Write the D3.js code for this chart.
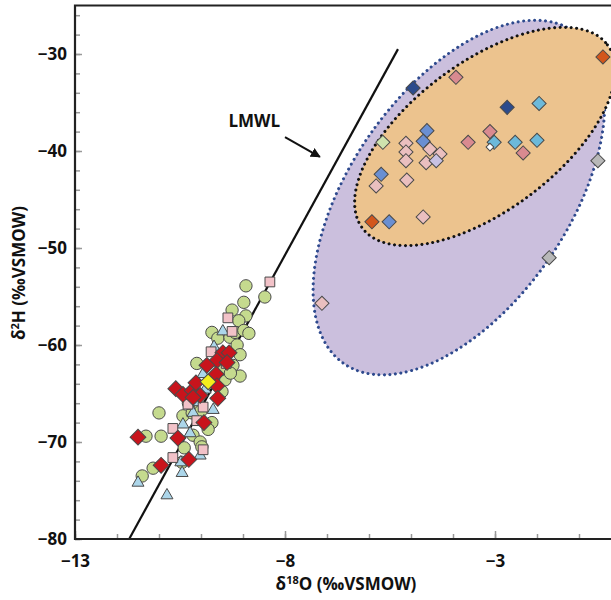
<!DOCTYPE html>
<html>
<head>
<meta charset="utf-8">
<script src="https://cdn.jsdelivr.net/npm/d3@7"></script>
<style>
body { margin: 0; background: #fff; }
svg text { font-family: "Open Sans", "Liberation Sans", sans-serif; font-weight: bold; fill: #111; }
</style>
</head>
<body>
<script>
// chart size
var width = 611;
var height = 600;

// axis ticks
var xMajorTicks = [-13, -8, -3];
var yMajorTicks = [-80, -70, -60, -50, -40, -30];

// LMWL line end points (d18O, d2H)
var lmwl = [[-11.71, -80], [-5.31, -29.5]];

// local samples near the LMWL
var greenCircles = [
  [-8.93, -53.9], [-8.48, -55.05], [-8.98, -55.6], [-9.26, -56.4], [-8.93, -57.0], [-9.10, -57.5],
  [-9.74, -58.7], [-9.60, -59.3], [-9.31, -59.2], [-9.19, -58.7], [-8.98, -58.5], [-8.86, -58.8],
  [-9.14, -60.0], [-9.07, -61.0], [-9.24, -62.1], [-9.07, -63.2], [-10.10, -61.9], [-9.43, -63.6],
  [-11.0, -67.0], [-11.31, -69.4], [-10.95, -69.4], [-10.43, -67.3], [-10.21, -67.0], [-10.02, -66.5],
  [-9.74, -68.0], [-9.83, -68.7], [-10.19, -69.3], [-10.40, -70.6], [-10.02, -70.0], [-9.98, -70.5],
  [-11.14, -72.7], [-11.40, -73.5], [-10.45, -72.1], [-9.5, -62.5], [-9.7, -63.5], [-10.3, -66.0],
  [-10.0, -66.8], [-9.5, -64.8], [-9.3, -62.9]
];
var blueTriangles = [
  [-9.48, -58.6], [-9.69, -60.2], [-9.95, -63.0], [-9.71, -66.7], [-10.19, -67.0], [-10.43, -68.2],
  [-10.26, -69.1], [-10.02, -71.4], [-10.48, -72.1], [-10.45, -73.2], [-11.50, -74.2], [-10.81, -75.5],
  [-10.15, -65.9], [-9.9, -64.6]
];
var pinkSquares = [
  [-8.36, -53.5], [-9.36, -57.2], [-9.26, -58.6], [-9.76, -60.7], [-9.40, -61.9], [-10.31, -66.1],
  [-9.95, -66.4], [-10.67, -68.6], [-9.95, -70.8], [-10.67, -71.6], [-10.1, -67.8]
];
var redDiamonds = [
  [-9.48, -60.8], [-9.33, -60.8], [-9.62, -61.6], [-9.38, -61.8], [-9.86, -62.1], [-9.64, -63.0],
  [-9.62, -64.2], [-10.60, -64.5], [-10.43, -65.1], [-10.21, -64.7], [-10.12, -63.9], [-10.02, -65.2],
  [-9.60, -65.5], [-10.19, -65.4], [-9.93, -68.0], [-11.50, -69.5], [-10.55, -69.6], [-10.95, -72.4],
  [-10.29, -71.8]
];
var yellowDiamonds = [[-9.83, -63.8]];

// samples inside the ellipses: [d18O, d2H, group]
var ellipseSamples = [
  [-4.95, -33.5, "navy"], [-3.93, -32.4, "rose"], [-0.43, -30.3, "orange"], [-2.71, -35.5, "navy"],
  [-1.95, -35.1, "cyan"], [-4.62, -37.9, "blue"], [-4.71, -39.0, "blue"], [-5.67, -39.1, "green"],
  [-3.64, -39.1, "rose"], [-3.12, -38.0, "rose"], [-3.02, -39.1, "cyan"], [-2.52, -39.1, "cyan"],
  [-2.0, -38.9, "cyan"], [-2.33, -40.2, "rose"], [-5.12, -39.2, "pink"], [-5.12, -40.1, "pink"],
  [-5.12, -41.0, "pink"], [-4.55, -39.8, "pink"], [-4.31, -40.3, "pink"], [-4.64, -41.2, "pink"],
  [-4.40, -41.0, "lavender"], [-5.71, -42.4, "blue"], [-5.83, -43.6, "pink"], [-5.10, -43.0, "pink"],
  [-4.71, -46.8, "pink"], [-5.93, -47.3, "orange"], [-5.52, -47.3, "blue"], [-0.55, -41.0, "grey"],
  [-1.71, -51.0, "grey"], [-7.12, -55.7, "pink"], [-3.12, -39.6, "white"]
];

var groupColor = {
  navy: "#2c4b8c", rose: "#d98a90", orange: "#d2561c", cyan: "#6cb9da", blue: "#6a8fd2",
  green: "#cfe3ad", pink: "#eabfbf", lavender: "#c8c1e2", grey: "#b8b8b8", white: "#ffffff"
};

// the two shaded ellipses (centre in data units, radii in px)
var ellipses = [
  { cx: -3.86, cy: -44.8, rx: 202, ry: 109, angle: -55.3, fill: "#cbbfdd", stroke: "#2e4a8e" },
  { cx: -3.24, cy: -38.5, rx: 153, ry: 74, angle: -36.8, fill: "#ecc38e", stroke: "#111111" }
];

var svg = d3.select("body").append("svg")
  .attr("width", width)
  .attr("height", height);

var x = d3.scaleLinear().domain([-13, 0]).range([75, 621]);
var y = d3.scaleLinear().domain([-80, -25]).range([539, 5.5]);

// ellipses
svg.selectAll("ellipse")
  .data(ellipses)
  .enter()
  .append("ellipse")
  .attr("cx", function(d) { return x(d.cx); })
  .attr("cy", function(d) { return y(d.cy); })
  .attr("rx", function(d) { return d.rx; })
  .attr("ry", function(d) { return d.ry; })
  .attr("transform", function(d) { return "rotate(" + d.angle + "," + x(d.cx) + "," + y(d.cy) + ")"; })
  .style("fill", function(d) { return d.fill; })
  .style("stroke", function(d) { return d.stroke; })
  .style("stroke-width", 3)
  .style("stroke-linecap", "round")
  .style("stroke-dasharray", "0 5.5");

// LMWL
var line = d3.line().x(function(d) { return x(d[0]); }).y(function(d) { return y(d[1]); });
svg.append("path")
  .attr("d", line(lmwl))
  .style("fill", "none")
  .style("stroke", "#111")
  .style("stroke-width", 2.2);

// markers
var stroke = "#4a4a4a";
function addSymbols(data, type, size, rotate, fill) {
  svg.append("g").selectAll("path")
    .data(data)
    .enter()
    .append("path")
    .attr("d", d3.symbol().type(type).size(size))
    .attr("transform", function(d) {
      return "translate(" + x(d[0]) + "," + y(d[1]) + ")" + (rotate ? " rotate(45)" : "");
    })
    .style("fill", typeof fill === "function" ? fill : function() { return fill; })
    .style("stroke", stroke)
    .style("stroke-width", 1);
}

addSymbols(greenCircles, d3.symbolCircle, 120, false, "#c5da8e");
addSymbols(blueTriangles, d3.symbolTriangle, 62, false, "#acd6ea");
addSymbols(pinkSquares, d3.symbolSquare, 95, false, "#f2c2c8");
addSymbols(redDiamonds, d3.symbolSquare, 125, true, "#c8141c");
addSymbols(yellowDiamonds, d3.symbolSquare, 125, true, "#f4ee1c");
addSymbols(ellipseSamples.filter(function(d) { return d[2] !== "white"; }), d3.symbolSquare, 100, true,
  function(d) { return groupColor[d[2]]; });
addSymbols(ellipseSamples.filter(function(d) { return d[2] === "white"; }), d3.symbolSquare, 30, true, "#ffffff");

// axes: minor and major ticks pointing inwards
function styleAxis(g) {
  g.select(".domain").remove();
  g.selectAll(".tick line").style("stroke", "#999").style("stroke-width", 1.5);
  g.selectAll(".tick text").style("font-size", "17px").style("fill", "#111");
}
var minus = function(d) { return d < 0 ? "\u2212" + Math.abs(d) : d; };

svg.append("g").attr("transform", "translate(0,539)")
  .call(d3.axisBottom(x).tickValues(d3.range(-13, 0.5, 1)).tickSize(-5).tickFormat(""))
  .call(styleAxis);
svg.append("g").attr("transform", "translate(0,539)")
  .call(d3.axisBottom(x).tickValues(xMajorTicks).tickSize(-8).tickPadding(16).tickFormat(minus))
  .call(styleAxis);

svg.append("g").attr("transform", "translate(75,0)")
  .call(d3.axisLeft(y).tickValues(d3.range(-80, -25, 2)).tickSize(-5).tickFormat(""))
  .call(styleAxis);
svg.append("g").attr("transform", "translate(75,0)")
  .call(d3.axisLeft(y).tickValues(yMajorTicks).tickSize(-7).tickPadding(8).tickFormat(minus))
  .call(styleAxis);

// frame
svg.append("path")
  .attr("d", "M" + x(0) + "," + y(-25) + "H75V539H" + x(0))
  .style("fill", "none")
  .style("stroke", "#222")
  .style("stroke-width", 2.2);

// axis titles
var xt = svg.append("text")
  .attr("x", 346).attr("y", 590)
  .attr("text-anchor", "middle")
  .style("font-size", "17px");
xt.append("tspan").text("\u03b4");
xt.append("tspan").text("18").style("font-size", "11px").attr("dy", -6);
xt.append("tspan").text("O (\u2030VSMOW)").attr("dy", 6);

var yt = svg.append("text")
  .attr("transform", "translate(25,273) rotate(-90)")
  .attr("text-anchor", "middle")
  .style("font-size", "17px");
yt.append("tspan").text("\u03b4");
yt.append("tspan").text("2").style("font-size", "11px").attr("dy", -6);
yt.append("tspan").text("H (\u2030VSMOW)").attr("dy", 6);

// LMWL label and arrow
svg.append("defs").append("marker")
  .attr("id", "arrow")
  .attr("viewBox", "0 0 10 10")
  .attr("refX", 9).attr("refY", 5)
  .attr("markerWidth", 5).attr("markerHeight", 5)
  .attr("orient", "auto")
  .append("path")
  .attr("d", "M0,0L10,5L0,10Z")
  .style("fill", "#111");

svg.append("text")
  .attr("x", x(-8.73)).attr("y", y(-37.5))
  .attr("text-anchor", "middle")
  .style("font-size", "17px")
  .text("LMWL");

svg.append("line")
  .attr("x1", x(-8.0)).attr("y1", y(-38.56))
  .attr("x2", x(-7.17)).attr("y2", y(-40.6))
  .style("stroke", "#111")
  .style("stroke-width", 2)
  .attr("marker-end", "url(#arrow)");
</script>
</body>
</html>
